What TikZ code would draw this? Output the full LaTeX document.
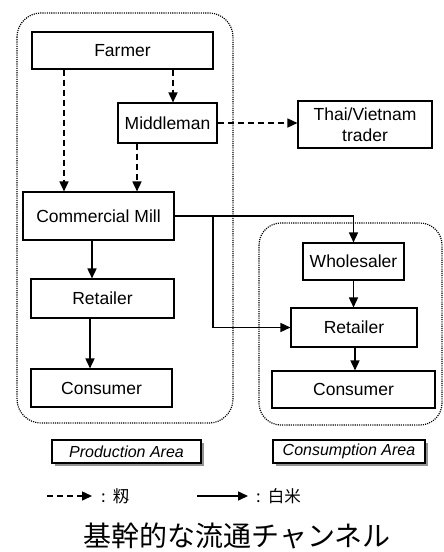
\documentclass[tikz,border=0pt]{standalone}
\usepackage{fontspec}
\setmainfont{Liberation Sans}
\newfontfamily\cjk{Noto Sans CJK JP}
\usetikzlibrary{arrows.meta,shadows}
\begin{document}
\begin{tikzpicture}[x=1pt,y=-1pt,
  box/.style={draw, line width=1.1pt, fill=white, inner sep=0pt, align=center,
    font=\fontsize{17.5}{21}\selectfont},
  area/.style={draw, dash pattern=on 1.1pt off 1.1pt, line width=1.2pt, rounded corners=24pt},
  tagbox/.style={draw, line width=1.1pt, fill=white, inner sep=0pt,
    font=\fontsize{16}{19}\selectfont\itshape,
    drop shadow={shadow xshift=3pt, shadow yshift=-3pt, fill=gray!85, opacity=1}},
  flow/.style={line width=1.5pt, -{Triangle[length=10pt,width=9pt]}},
  paddy/.style={flow, dash pattern=on 6pt off 4pt},
  rice/.style={flow},
  legtext/.style={anchor=west, inner sep=0pt, font=\cjk\fontsize{16.5}{19}\selectfont},
]
\useasboundingbox (0,0) rectangle (444,552);
% areas
\draw[area] (17,13) rectangle (233,423);
\draw[area, rounded corners=22pt] (259,223) rectangle (442,425);
% nodes
\node[box, minimum width=181pt, minimum height=37pt] (farmer) at (122.5,50.5) {Farmer};
\node[box, minimum width=99pt, minimum height=40pt] (middle) at (167.5,123) {Middleman};
\node[box, minimum width=134pt, minimum height=47pt] (thai) at (365,124.5) {Thai/Vietnam\\trader};
\node[box, minimum width=151pt, minimum height=48pt] (mill) at (98.5,216) {Commercial Mill};
\node[box, minimum width=143pt, minimum height=39pt] (retp) at (102.5,298.5) {Retailer};
\node[box, minimum width=141pt, minimum height=38pt] (conp) at (101.5,388) {Consumer};
\node[box, minimum width=101pt, minimum height=37pt] (whole) at (353.5,261.5) {Wholesaler};
\node[box, minimum width=126pt, minimum height=39pt] (retc) at (354,327.5) {Retailer};
\node[box, minimum width=163pt, minimum height=37pt] (conc) at (353.5,389.5) {Consumer};
% paddy flows
\draw[paddy] (farmer.south -| 64,0) -- (mill.north -| 64,0);
\draw[paddy] (farmer.south -| 173,0) -- (middle.north -| 173,0);
\draw[paddy] (middle.south -| 137,0) -- (mill.north -| 137,0);
\draw[paddy] (middle.east) -- (middle.east -| thai.west);
% rice flows
\draw[rice] (mill.south -| 92,0) -- (retp.north -| 92,0);
\draw[rice] (retp.south -| 90,0) -- (conp.north -| 90,0);
\draw[rice] (mill.east) -| (whole.north);
\draw[rice] (mill.east -| 213,0) |- (retc.west);
\draw[rice] (whole.south) -- (whole.south |- retc.north);
\draw[rice] (retc.south -| 355,0) -- (conc.north -| 355,0);
% area tags
\node[tagbox, minimum width=149pt, minimum height=23pt] (tagp) at (126.5,451.5) {Production Area};
\node[tagbox, minimum width=152pt, minimum height=23pt] (tagc) at (349,451.5) {Consumption Area};
% legend
\coordinate (lp) at (47,496);
\coordinate (lr) at (197,496);
\node[legtext] (lpt) at (101,496) {:\hspace{7pt}籾};
\node[legtext] (lrt) at (256,496) {:\hspace{7pt}白米};
\draw[paddy] (lp) -- ([xshift=-9pt]lpt.west);
\draw[rice] (lr) -- ([xshift=-8pt]lrt.west);
% title
\node[font=\cjk\fontsize{28}{32}\selectfont, inner sep=0pt] (title) at (237,536) {基幹的な流通チャンネル};
\end{tikzpicture}
\end{document}
